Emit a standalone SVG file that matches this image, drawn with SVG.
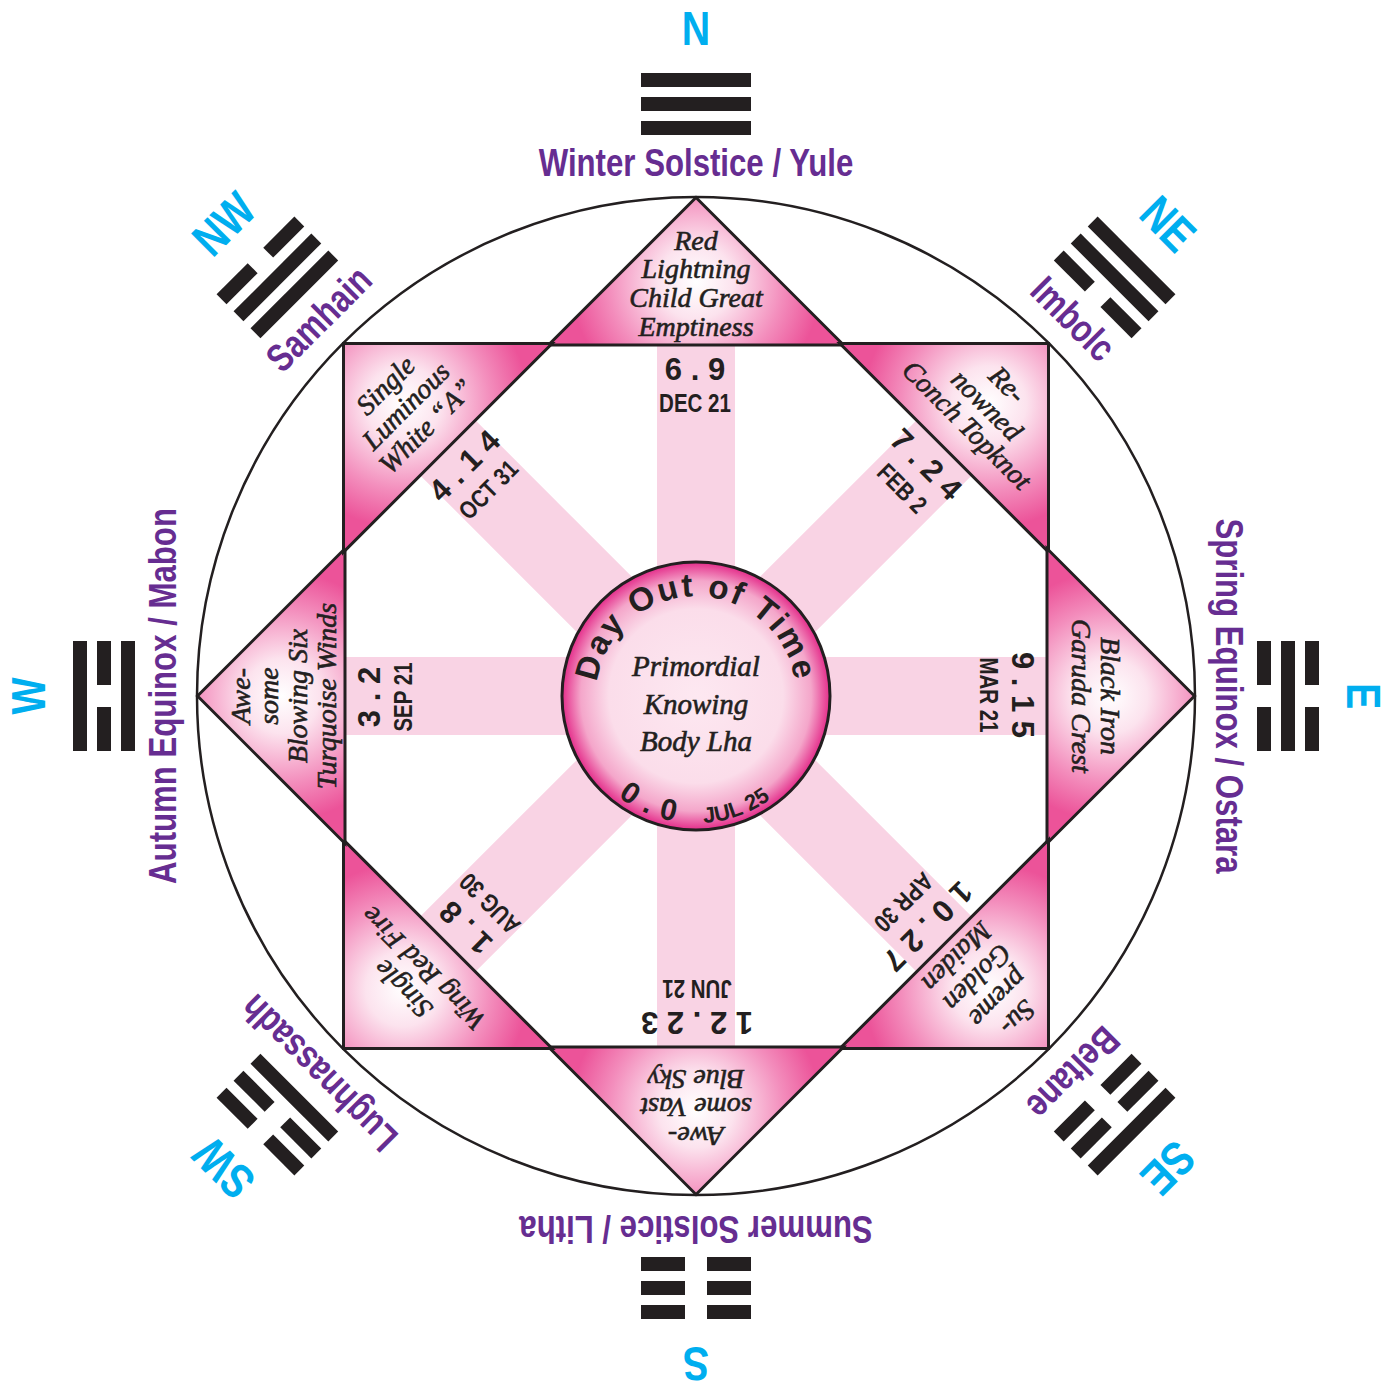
<svg xmlns="http://www.w3.org/2000/svg" xmlns:xlink="http://www.w3.org/1999/xlink" width="1398" height="1388" viewBox="0 0 1398 1388">
<style>
.tri{fill:url(#triGrad);stroke:#231F20;stroke-width:3}
.band{fill:#F9D3E4}
.tl{font-family:"Liberation Serif","Times New Roman",serif;font-style:italic;font-size:28px;fill:#231F20;stroke:#231F20;stroke-width:0.6;text-anchor:middle}
.ctl{font-size:29px}
.num{font-family:"Liberation Sans",Arial,sans-serif;font-weight:bold;font-size:31px;fill:#231F20;text-anchor:middle}
.date{font-family:"Liberation Sans",Arial,sans-serif;font-weight:bold;font-size:25px;fill:#231F20;text-anchor:middle}
.lab{font-family:"Liberation Sans",Arial,sans-serif;font-weight:bold;font-size:39px;fill:#662D91;text-anchor:middle}
.cmp{font-family:"Liberation Sans",Arial,sans-serif;font-weight:bold;font-size:48px;fill:#00AEEF;text-anchor:middle}
.bar{fill:#231F20}
.arc{font-family:"Liberation Sans",Arial,sans-serif;font-weight:bold;fill:#231F20}
</style>
<defs>
<radialGradient id="triGrad" gradientUnits="userSpaceOnUse" cx="696" cy="282" r="125">
<stop offset="0" stop-color="#FFFFFF"/>
<stop offset="0.3" stop-color="#FCE3EE"/>
<stop offset="0.7" stop-color="#F38DBC"/>
<stop offset="1" stop-color="#EC5399"/>
</radialGradient>
<radialGradient id="cGrad" gradientUnits="userSpaceOnUse" cx="696" cy="696" r="134">
<stop offset="0" stop-color="#FDE8F1"/>
<stop offset="0.65" stop-color="#FBDDEA"/>
<stop offset="0.86" stop-color="#F4A6CA"/>
<stop offset="1" stop-color="#E42C8A"/>
</radialGradient>
<rect id="solid" class="bar" width="110" height="14"/>
<g id="broken"><rect class="bar" width="44" height="14"/><rect class="bar" x="66" width="44" height="14"/></g>
<path id="topArc" d="M 596.4 687.3 A 100 100 0 0 1 795.6 687.3"/>
<path id="botArc" d="M 570.9 718.1 A 127 127 0 0 0 821.1 718.1"/>
</defs>
<rect width="1398" height="1388" fill="#FFFFFF"/>
<circle id="outer-circle" cx="696" cy="696" r="499" fill="#FFFFFF" stroke="#231F20" stroke-width="2.5"/>
<g id="connectors">
<rect class="band" x="657" y="344" width="78" height="704"/>
<rect class="band" x="657" y="344" width="78" height="704" transform="rotate(45 696 696)"/>
<rect class="band" x="657" y="344" width="78" height="704" transform="rotate(90 696 696)"/>
<rect class="band" x="657" y="344" width="78" height="704" transform="rotate(135 696 696)"/>
</g>
<g id="node-n" transform="rotate(0 696 696)">
<polygon class="tri" points="696,197.5 548.5,345 843.5,345"/>
<text class="tl"><tspan x="696" y="250">Red</tspan><tspan x="696" y="278">Lightning</tspan><tspan x="696" y="307">Child Great</tspan><tspan x="696" y="336">Emptiness</tspan></text>
<text class="num" x="695" y="380">6 . 9</text>
<text class="date" transform="translate(695,412) scale(0.82,1)">DEC 21</text>
<use xlink:href="#solid" x="641" y="73"/><use xlink:href="#solid" x="641" y="97"/><use xlink:href="#solid" x="641" y="121"/>
<text class="lab" transform="translate(696,176) scale(0.8,1)">Winter Solstice / Yule</text>
<text class="cmp" transform="translate(696,45) scale(0.82,1)">N</text>
</g>
<g id="node-ne" transform="rotate(45 696 696)">
<polygon class="tri" points="696,197.5 548.5,345 843.5,345"/>
<text class="tl"><tspan x="696" y="265">Re-</tspan><tspan x="696" y="294">nowned</tspan><tspan x="696" y="322">Conch Topknot</tspan></text>
<text class="num" x="695" y="380">7 . 2 4</text>
<text class="date" transform="translate(695,412) scale(0.82,1)">FEB 2</text>
<use xlink:href="#solid" x="641" y="73"/><use xlink:href="#solid" x="641" y="97"/><use xlink:href="#broken" x="641" y="121"/>
<text class="lab" transform="translate(696,176) scale(0.8,1)">Imbolc</text>
<text class="cmp" transform="translate(696,45) scale(0.82,1)">NE</text>
</g>
<g id="node-e" transform="rotate(90 696 696)">
<polygon class="tri" points="696,197.5 548.5,345 843.5,345"/>
<text class="tl"><tspan x="696" y="291">Black Iron</tspan><tspan x="696" y="320">Garuda Crest</tspan></text>
<text class="num" x="695" y="380">9 . 1 5</text>
<text class="date" transform="translate(695,412) scale(0.82,1)">MAR 21</text>
<use xlink:href="#broken" x="641" y="73"/><use xlink:href="#solid" x="641" y="97"/><use xlink:href="#broken" x="641" y="121"/>
<text class="lab" transform="translate(696,176) scale(0.8,1)">Spring Equinox / Ostara</text>
<text class="cmp" transform="translate(696,45) scale(0.82,1)">E</text>
</g>
<g id="node-se" transform="rotate(135 696 696)">
<polygon class="tri" points="696,197.5 548.5,345 843.5,345"/>
<text class="tl"><tspan x="696" y="250">Su-</tspan><tspan x="696" y="278">preme</tspan><tspan x="696" y="307">Golden</tspan><tspan x="696" y="336">Maiden</tspan></text>
<text class="num" x="695" y="380">1 0 . 2 7</text>
<text class="date" transform="translate(695,412) scale(0.82,1)">APR 30</text>
<use xlink:href="#solid" x="641" y="73"/><use xlink:href="#broken" x="641" y="97"/><use xlink:href="#broken" x="641" y="121"/>
<text class="lab" transform="translate(696,176) scale(0.8,1)">Beltane</text>
<text class="cmp" transform="translate(696,45) scale(0.82,1)">SE</text>
</g>
<g id="node-s" transform="rotate(180 696 696)">
<polygon class="tri" points="696,197.5 548.5,345 843.5,345"/>
<text class="tl"><tspan x="696" y="265">Awe-</tspan><tspan x="696" y="294">some Vast</tspan><tspan x="696" y="322">Blue Sky</tspan></text>
<text class="num" x="695" y="380">1 2 . 2 3</text>
<text class="date" transform="translate(695,412) scale(0.82,1)">JUN 21</text>
<use xlink:href="#broken" x="641" y="73"/><use xlink:href="#broken" x="641" y="97"/><use xlink:href="#broken" x="641" y="121"/>
<text class="lab" transform="translate(696,176) scale(0.8,1)">Summer Solstice / Litha</text>
<text class="cmp" transform="translate(696,45) scale(0.82,1)">S</text>
</g>
<g id="node-sw" transform="rotate(225 696 696)">
<polygon class="tri" points="696,197.5 548.5,345 843.5,345"/>
<text class="tl"><tspan x="696" y="291">Single</tspan><tspan x="696" y="320">Wing Red Fire</tspan></text>
<text class="num" x="695" y="380">1 . 8</text>
<text class="date" transform="translate(695,412) scale(0.82,1)">AUG 30</text>
<use xlink:href="#broken" x="641" y="73"/><use xlink:href="#broken" x="641" y="97"/><use xlink:href="#solid" x="641" y="121"/>
<text class="lab" transform="translate(696,176) scale(0.8,1)">Lughnassadh</text>
<text class="cmp" transform="translate(696,45) scale(0.82,1)">SW</text>
</g>
<g id="node-w" transform="rotate(270 696 696)">
<polygon class="tri" points="696,197.5 548.5,345 843.5,345"/>
<text class="tl"><tspan x="696" y="250">Awe-</tspan><tspan x="696" y="278">some</tspan><tspan x="696" y="307">Blowing Six</tspan><tspan x="696" y="336">Turquoise Winds</tspan></text>
<text class="num" x="695" y="380">3 . 2</text>
<text class="date" transform="translate(695,412) scale(0.82,1)">SEP 21</text>
<use xlink:href="#solid" x="641" y="73"/><use xlink:href="#broken" x="641" y="97"/><use xlink:href="#solid" x="641" y="121"/>
<text class="lab" transform="translate(696,176) scale(0.8,1)">Autumn Equinox / Mabon</text>
<text class="cmp" transform="translate(696,45) scale(0.82,1)">W</text>
</g>
<g id="node-nw" transform="rotate(315 696 696)">
<polygon class="tri" points="696,197.5 548.5,345 843.5,345"/>
<text class="tl"><tspan x="696" y="266">Single</tspan><tspan x="696" y="295">Luminous</tspan><tspan x="696" y="324">White “A”</tspan></text>
<text class="num" x="695" y="380">4 . 1 4</text>
<text class="date" transform="translate(695,412) scale(0.82,1)">OCT 31</text>
<use xlink:href="#broken" x="641" y="73"/><use xlink:href="#solid" x="641" y="97"/><use xlink:href="#solid" x="641" y="121"/>
<text class="lab" transform="translate(696,176) scale(0.8,1)">Samhain</text>
<text class="cmp" transform="translate(696,45) scale(0.82,1)">NW</text>
</g>
<g id="node-center">
<circle cx="696" cy="696" r="134" fill="url(#cGrad)" stroke="#231F20" stroke-width="3"/>
<text class="arc" font-size="33" letter-spacing="2.2"><textPath xlink:href="#topArc" startOffset="50%" text-anchor="middle">Day Out of Time</textPath></text>
<text class="arc" font-size="30" letter-spacing="1"><textPath xlink:href="#botArc" startOffset="125" text-anchor="middle">0 . 0</textPath></text>
<text class="arc" font-size="22"><textPath xlink:href="#botArc" startOffset="221" text-anchor="middle">JUL 25</textPath></text>
<text class="tl ctl"><tspan x="696" y="676">Primordial</tspan><tspan x="696" y="714">Knowing</tspan><tspan x="696" y="751">Body Lha</tspan></text>
</g>
</svg>
